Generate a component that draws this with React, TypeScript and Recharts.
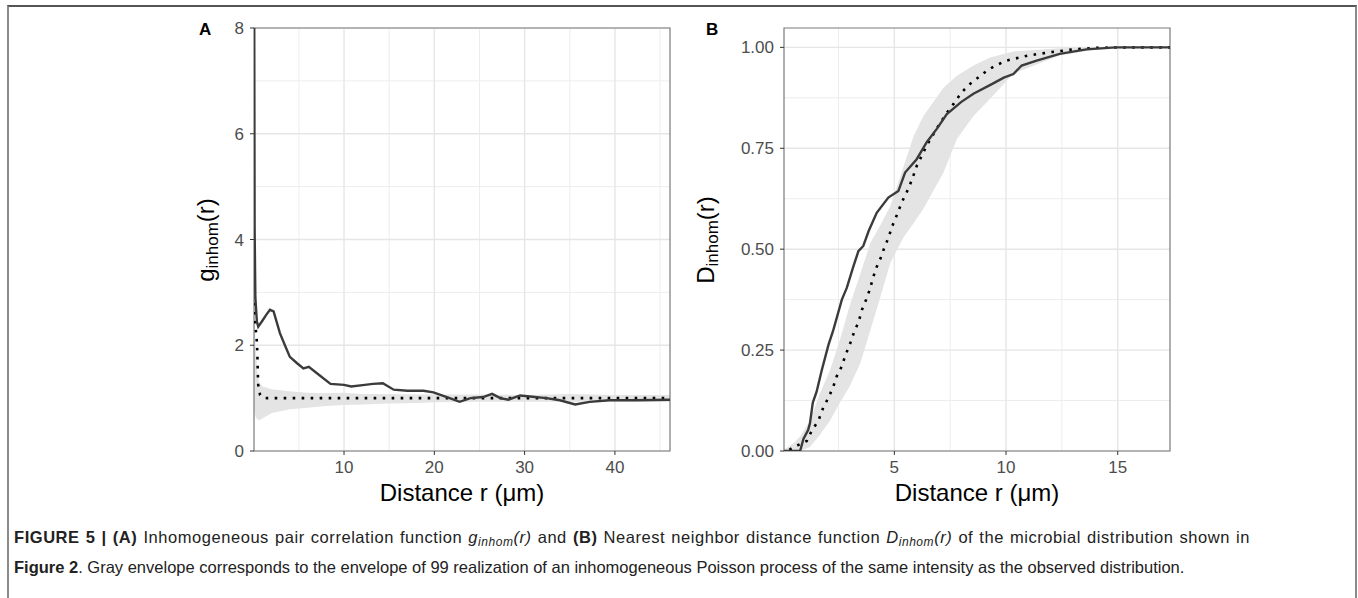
import React from "react";
import {
  Area,
  CartesianGrid,
  ComposedChart,
  Line,
  ReferenceArea,
  XAxis,
  YAxis,
} from "recharts";

// panel A: inhomogeneous pair correlation function
const aObsR = [0.04, 0.1, 0.18, 0.35, 0.5, 0.9, 1.4, 1.8, 2.2, 2.9, 3.5, 4.0, 4.8, 5.5, 6.1, 7.0, 8.5, 10, 10.8, 12.3, 13.2, 14.3, 15.5, 17, 18.8, 19.9, 21.7, 22.8, 24, 25.4, 26.4, 27.3, 28.2, 29.5, 30.6, 32.4, 33.9, 35.6, 37.2, 39.4, 42.4, 46.1];
const aObsG = [9.5, 4.2, 2.9, 2.45, 2.35, 2.45, 2.58, 2.67, 2.64, 2.23, 1.98, 1.78, 1.66, 1.56, 1.59, 1.47, 1.27, 1.25, 1.22, 1.25, 1.27, 1.28, 1.16, 1.14, 1.14, 1.11, 1.0, 0.93, 1.0, 1.02, 1.08, 1.0, 0.97, 1.05, 1.03, 1.0, 0.96, 0.88, 0.93, 0.96, 0.96, 0.97];
const aTheoR = [0.04, 0.2, 0.33, 0.4, 0.45, 0.5, 0.7, 1.0, 1.5, 46.1];
const aTheoG = [2.8, 2.35, 2.1, 1.87, 1.49, 1.25, 1.06, 1.01, 1.0, 1.0];
const aEnvR = [0.04, 0.2, 0.4, 0.6, 1, 2, 4, 6, 8, 10, 12, 15, 18, 20, 25, 30, 35, 40, 46.1];
const aEnvLo = [0.75, 0.65, 0.6, 0.58, 0.62, 0.72, 0.79, 0.82, 0.85, 0.87, 0.88, 0.9, 0.91, 0.92, 0.93, 0.93, 0.93, 0.93, 0.93];
const aEnvHi = [2.9, 2.0, 1.5, 1.3, 1.22, 1.17, 1.13, 1.1, 1.09, 1.1, 1.08, 1.08, 1.07, 1.07, 1.07, 1.06, 1.08, 1.06, 1.06];

// panel B: nearest neighbour distance function
const bObsR = [0.06, 0.78, 0.93, 1.14, 1.22, 1.35, 1.52, 1.75, 2.05, 2.27, 2.65, 2.87, 3.17, 3.39, 3.61, 3.85, 4.21, 4.73, 5.18, 5.48, 6.0, 6.45, 6.9, 7.35, 8.0, 8.54, 9.3, 9.9, 10.33, 10.7, 11.37, 12.4, 13.6, 14.9, 17.34];
const bObsD = [0, 0, 0.03, 0.052, 0.068, 0.12, 0.147, 0.2, 0.263, 0.3, 0.375, 0.404, 0.458, 0.495, 0.508, 0.545, 0.59, 0.628, 0.644, 0.69, 0.723, 0.765, 0.798, 0.835, 0.865, 0.885, 0.907, 0.925, 0.934, 0.955, 0.967, 0.984, 0.995, 1.0, 1.0];
const bTheoR = [0.3, 0.55, 1.08, 1.3, 1.6, 1.82, 2.05, 2.27, 2.42, 2.65, 2.8, 3.0, 3.2, 3.4, 3.55, 3.73, 3.9, 4.05, 4.2, 4.4, 4.56, 4.75, 4.88, 5.03, 5.22, 5.4, 5.63, 5.82, 6.0, 6.45, 7.02, 7.35, 7.65, 8.02, 8.4, 8.77, 9.07, 9.43, 10.0, 11.0, 12.0, 13.0, 14.1, 15.5, 17.34];
const bTheoD = [0.003, 0.011, 0.025, 0.05, 0.075, 0.108, 0.132, 0.16, 0.185, 0.21, 0.236, 0.263, 0.295, 0.32, 0.35, 0.374, 0.4, 0.43, 0.455, 0.48, 0.505, 0.53, 0.554, 0.573, 0.6, 0.624, 0.65, 0.677, 0.706, 0.757, 0.81, 0.838, 0.86, 0.889, 0.91, 0.926, 0.939, 0.952, 0.967, 0.98, 0.988, 0.995, 0.999, 1.0, 1.0];
const bEnvR = [0.1, 0.5, 0.78, 1.22, 1.67, 2.12, 2.57, 3.0, 3.48, 3.93, 4.38, 4.82, 5.42, 5.87, 6.3, 7.2, 7.8, 8.54, 9.28, 10.33, 12.4, 14, 17.34];
const bEnvLo = [0, 0, 0, 0.01, 0.04, 0.075, 0.12, 0.16, 0.218, 0.3, 0.383, 0.466, 0.53, 0.565, 0.6, 0.69, 0.773, 0.83, 0.872, 0.935, 0.98, 0.995, 1.0];
const bEnvHi = [0.005, 0.02, 0.036, 0.075, 0.143, 0.2, 0.276, 0.36, 0.44, 0.516, 0.56, 0.607, 0.706, 0.781, 0.83, 0.9, 0.93, 0.955, 0.975, 0.99, 0.998, 1.0, 1.0];

const aXTicks = [10, 20, 30, 40];
const aXMinor = [5, 15, 25, 35, 45];
const aYTicks = [0, 2, 4, 6, 8];
const aYMinor = [1, 3, 5, 7];
const bXTicks = [5, 10, 15];
const bXMinor = [2.5, 7.5, 12.5];
const bYTicks = [0, 0.25, 0.5, 0.75, 1];
const bYMinor = [0.125, 0.375, 0.625, 0.875];

const font = "'Liberation Sans', Arial, Helvetica, sans-serif";

const pts = (r: number[], v: number[]) => r.map((x, i) => ({ r: x, v: v[i] }));
const band = (r: number[], lo: number[], hi: number[]) =>
  r.map((x, i) => ({ r: x, band: [lo[i], hi[i]] }));

type PanelProps = {
  left: number;
  width: number;
  marginLeft: number;
  xDomain: [number, number];
  yDomain: [number, number];
  xTicks: number[];
  xMinor: number[];
  yTicks: number[];
  yMinor: number[];
  env: { r: number; band: number[] }[];
  obs: { r: number; v: number }[];
  theo: { r: number; v: number }[];
  yFmt?: (v: number) => string;
};

function Panel(p: PanelProps) {
  return (
    <div style={{ position: "absolute", left: p.left, top: 0 }}>
      <ComposedChart
        width={p.width}
        height={520}
        margin={{ top: 28, right: 20, bottom: 0, left: p.marginLeft }}
      >
        <CartesianGrid
          stroke="#ededed"
          strokeWidth={1}
          verticalValues={p.xMinor}
          horizontalValues={p.yMinor}
        />
        <CartesianGrid
          stroke="#e6e6e6"
          strokeWidth={1.4}
          verticalValues={p.xTicks}
          horizontalValues={p.yTicks}
        />
        <XAxis
          type="number"
          dataKey="r"
          domain={p.xDomain}
          ticks={p.xTicks}
          allowDataOverflow
          height={69}
          axisLine={false}
          tickSize={4}
          tickMargin={6}
          tickLine={{ stroke: "#333", strokeWidth: 1 }}
          tick={{ fill: "#4d4d4d", fontSize: 17, fontFamily: font }}
          label={{
            value: "Distance r (μm)",
            position: "insideBottom",
            offset: 19,
            fill: "#000",
            fontSize: 24,
            fontFamily: font,
          }}
        />
        <YAxis
          type="number"
          domain={p.yDomain}
          ticks={p.yTicks}
          allowDataOverflow
          width={54}
          axisLine={false}
          tickSize={4}
          tickMargin={6}
          tickLine={{ stroke: "#333", strokeWidth: 1 }}
          tick={{ fill: "#4d4d4d", fontSize: 17, fontFamily: font }}
          tickFormatter={p.yFmt}
        />
        <Area
          data={p.env}
          dataKey="band"
          type="linear"
          stroke="none"
          fill="#e4e4e4"
          fillOpacity={1}
          isAnimationActive={false}
        />
        <Line
          data={p.theo}
          dataKey="v"
          type="linear"
          stroke="#000"
          strokeWidth={2.6}
          strokeDasharray="2.6 6.4"
          dot={false}
          activeDot={false}
          isAnimationActive={false}
        />
        <Line
          data={p.obs}
          dataKey="v"
          type="linear"
          stroke="#3b3b3b"
          strokeWidth={2.4}
          dot={false}
          activeDot={false}
          isAnimationActive={false}
        />
        <ReferenceArea
          x1={p.xDomain[0]}
          x2={p.xDomain[1]}
          y1={p.yDomain[0]}
          y2={p.yDomain[1]}
          fill="none"
          stroke="#7a7a7a"
          strokeWidth={1.2}
          ifOverflow="visible"
        />
      </ComposedChart>
    </div>
  );
}

const yTitle: React.CSSProperties = {
  position: "absolute",
  top: 240,
  transform: "translate(-50%, -50%) rotate(-90deg)",
  whiteSpace: "nowrap",
  fontFamily: font,
  fontSize: 24,
  color: "#000",
  lineHeight: 1,
};
const subStyle: React.CSSProperties = { fontSize: 17, verticalAlign: "-4px" };
const tag: React.CSSProperties = {
  position: "absolute",
  top: 20,
  fontFamily: font,
  fontWeight: "bold",
  fontSize: 17,
  color: "#000",
};
const capSub: React.CSSProperties = { fontSize: 12, lineHeight: 0, verticalAlign: "-3px" };

export default function App() {
  return (
    <div
      style={{
        position: "absolute",
        left: 0,
        top: 0,
        width: 1358,
        height: 598,
        background: "#fff",
        overflow: "hidden",
      }}
    >
      <div
        style={{
          position: "absolute",
          left: 7,
          top: 5,
          width: 1346,
          height: 620,
          borderTop: "2px solid #555",
          borderLeft: "2px solid #8a8a8a",
          borderRight: "2px solid #8a8a8a",
        }}
      />
      <Panel
        left={0}
        width={690}
        marginLeft={200}
        xDomain={[0.03, 46.1]}
        yDomain={[0, 8]}
        xTicks={aXTicks}
        xMinor={aXMinor}
        yTicks={aYTicks}
        yMinor={aYMinor}
        env={band(aEnvR, aEnvLo, aEnvHi)}
        obs={pts(aObsR, aObsG)}
        theo={pts(aTheoR, aTheoG)}
      />
      <Panel
        left={690}
        width={500}
        marginLeft={40}
        xDomain={[0.06, 17.34]}
        yDomain={[0, 1.048]}
        xTicks={bXTicks}
        xMinor={bXMinor}
        yTicks={bYTicks}
        yMinor={bYMinor}
        env={band(bEnvR, bEnvLo, bEnvHi)}
        obs={pts(bObsR, bObsD)}
        theo={pts(bTheoR, bTheoD)}
        yFmt={(v) => v.toFixed(2)}
      />
      <div style={{ ...yTitle, left: 207 }}>
        g<span style={subStyle}>inhom</span>(r)
      </div>
      <div style={{ ...yTitle, left: 707 }}>
        D<span style={subStyle}>inhom</span>(r)
      </div>
      <div style={{ ...tag, left: 199 }}>A</div>
      <div style={{ ...tag, left: 706 }}>B</div>
      <div
        style={{
          position: "absolute",
          left: 14,
          top: 522,
          width: 1236,
          fontFamily: font,
          fontSize: 16.5,
          lineHeight: "30px",
          color: "#222",
        }}
      >
        <div
          style={{
            textAlign: "justify",
            textAlignLast: "justify",
            letterSpacing: "0.55px",
            height: 30,
          }}
        >
          <b>FIGURE 5 | (A)</b> Inhomogeneous pair correlation function{" "}
          <i>
            g<span style={capSub}>inhom</span>(r)
          </i>{" "}
          and <b>(B)</b> Nearest neighbor distance function{" "}
          <i>
            D<span style={capSub}>inhom</span>(r)
          </i>{" "}
          of the microbial distribution shown in
        </div>
        <div style={{ whiteSpace: "nowrap", height: 30 }}>
          <b>Figure 2</b>. Gray envelope corresponds to the envelope of 99 realization of an
          inhomogeneous Poisson process of the same intensity as the observed distribution.
        </div>
      </div>
    </div>
  );
}
